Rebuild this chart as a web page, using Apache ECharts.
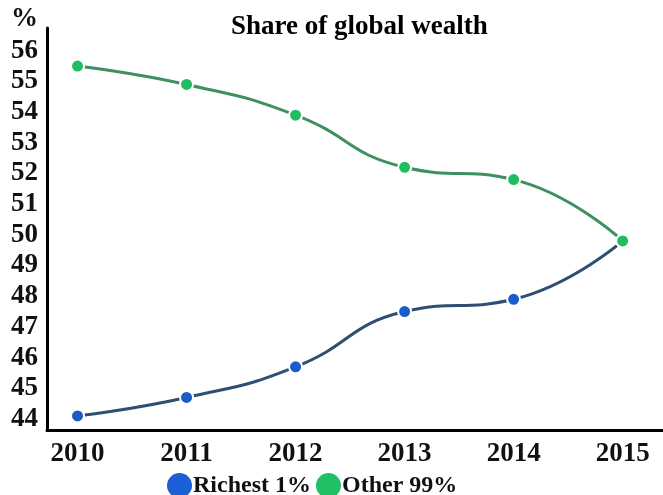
<!DOCTYPE html>
<html>
<head>
<meta charset="utf-8">
<script src="https://cdn.jsdelivr.net/npm/echarts@6/dist/echarts.min.js"></script>
<style>
  html, body { margin: 0; padding: 0; background: #fff; }
  #chart { width: 663px; height: 495px; }
</style>
</head>
<body>
<div id="chart"></div>
<script>
// Years on the horizontal axis
const years = [2010, 2011, 2012, 2013, 2014, 2015];
// Share of global wealth, percent
const richest1 = [44.1, 44.7, 45.7, 47.5, 47.9, 49.8];
const other99 = [55.5, 54.9, 53.9, 52.2, 51.8, 49.8];
const seriesNames = ['Richest 1%', 'Other 99%'];
const titleText = 'Share of global wealth';
const yUnit = '%';

const serif = '"Liberation Serif", "Times New Roman", serif';
const isWhole = v => Math.abs(v - Math.round(v)) < 1e-6;

const chart = echarts.init(document.getElementById('chart'), null, { renderer: 'canvas' });

function lineSeries(name, values, lineColor, dotColor) {
  return {
    name: name,
    type: 'line',
    smooth: true,
    data: years.map((y, i) => [y, values[i]]),
    symbol: 'circle',
    symbolSize: 13,
    showAllSymbol: true,
    lineStyle: { color: lineColor, width: 3 },
    itemStyle: { color: dotColor, borderColor: '#fff', borderWidth: 2 },
    emphasis: { disabled: true },
    z: 3
  };
}

chart.setOption({
  animation: false,
  backgroundColor: '#fff',
  title: {
    text: titleText,
    left: 226,
    top: 9,
    textStyle: { fontFamily: serif, fontWeight: 'bold', fontSize: 27, color: '#000' }
  },
  legend: {
    data: seriesNames.map((n, i) => ({
      name: n,
      itemStyle: { color: i === 0 ? '#1a5fd6' : '#20c065', borderWidth: 0 }
    })),
    icon: 'circle',
    left: 162,
    top: 468,
    itemWidth: 25,
    itemHeight: 25,
    itemGap: 5,
    selectedMode: false,
    textStyle: { fontFamily: serif, fontWeight: 'bold', fontSize: 24, color: '#111', padding: [0, 0, 0, -4] }
  },
  grid: { left: 47, right: 0, top: 28, bottom: 65, containLabel: false, outerBoundsMode: 'none' },
  xAxis: {
    type: 'value',
    min: 2009.72,
    max: 2015.37,
    splitNumber: 6,
    axisLine: { show: true, lineStyle: { color: '#000', width: 3 } },
    axisTick: { show: false },
    splitLine: { show: false },
    axisLabel: {
      margin: 11,
      fontFamily: serif, fontWeight: 'bold', fontSize: 27, color: '#111',
      showMinLabel: true, showMaxLabel: true,
      formatter: v => (isWhole(v) ? String(Math.round(v)) : '')
    }
  },
  yAxis: {
    type: 'value',
    min: 43.64,
    max: 56.74,
    splitNumber: 13,
    name: yUnit,
    nameLocation: 'end',
    nameGap: -5,
    nameTextStyle: { fontFamily: serif, fontWeight: 'bold', fontSize: 27, color: '#111', align: 'right', padding: [0, 9, 0, 0] },
    axisLine: { show: true, lineStyle: { color: '#000', width: 3 } },
    axisTick: { show: false },
    splitLine: { show: false },
    axisLabel: {
      margin: 9,
      fontFamily: serif, fontWeight: 'bold', fontSize: 27, color: '#111',
      formatter: v => (isWhole(v) ? String(Math.round(v)) : '')
    }
  },
  series: [
    lineSeries(seriesNames[0], richest1, '#2f4f72', '#1a5cc8'),
    lineSeries(seriesNames[1], other99, '#3f8f60', '#20be62')
  ]
});
</script>
</body>
</html>
